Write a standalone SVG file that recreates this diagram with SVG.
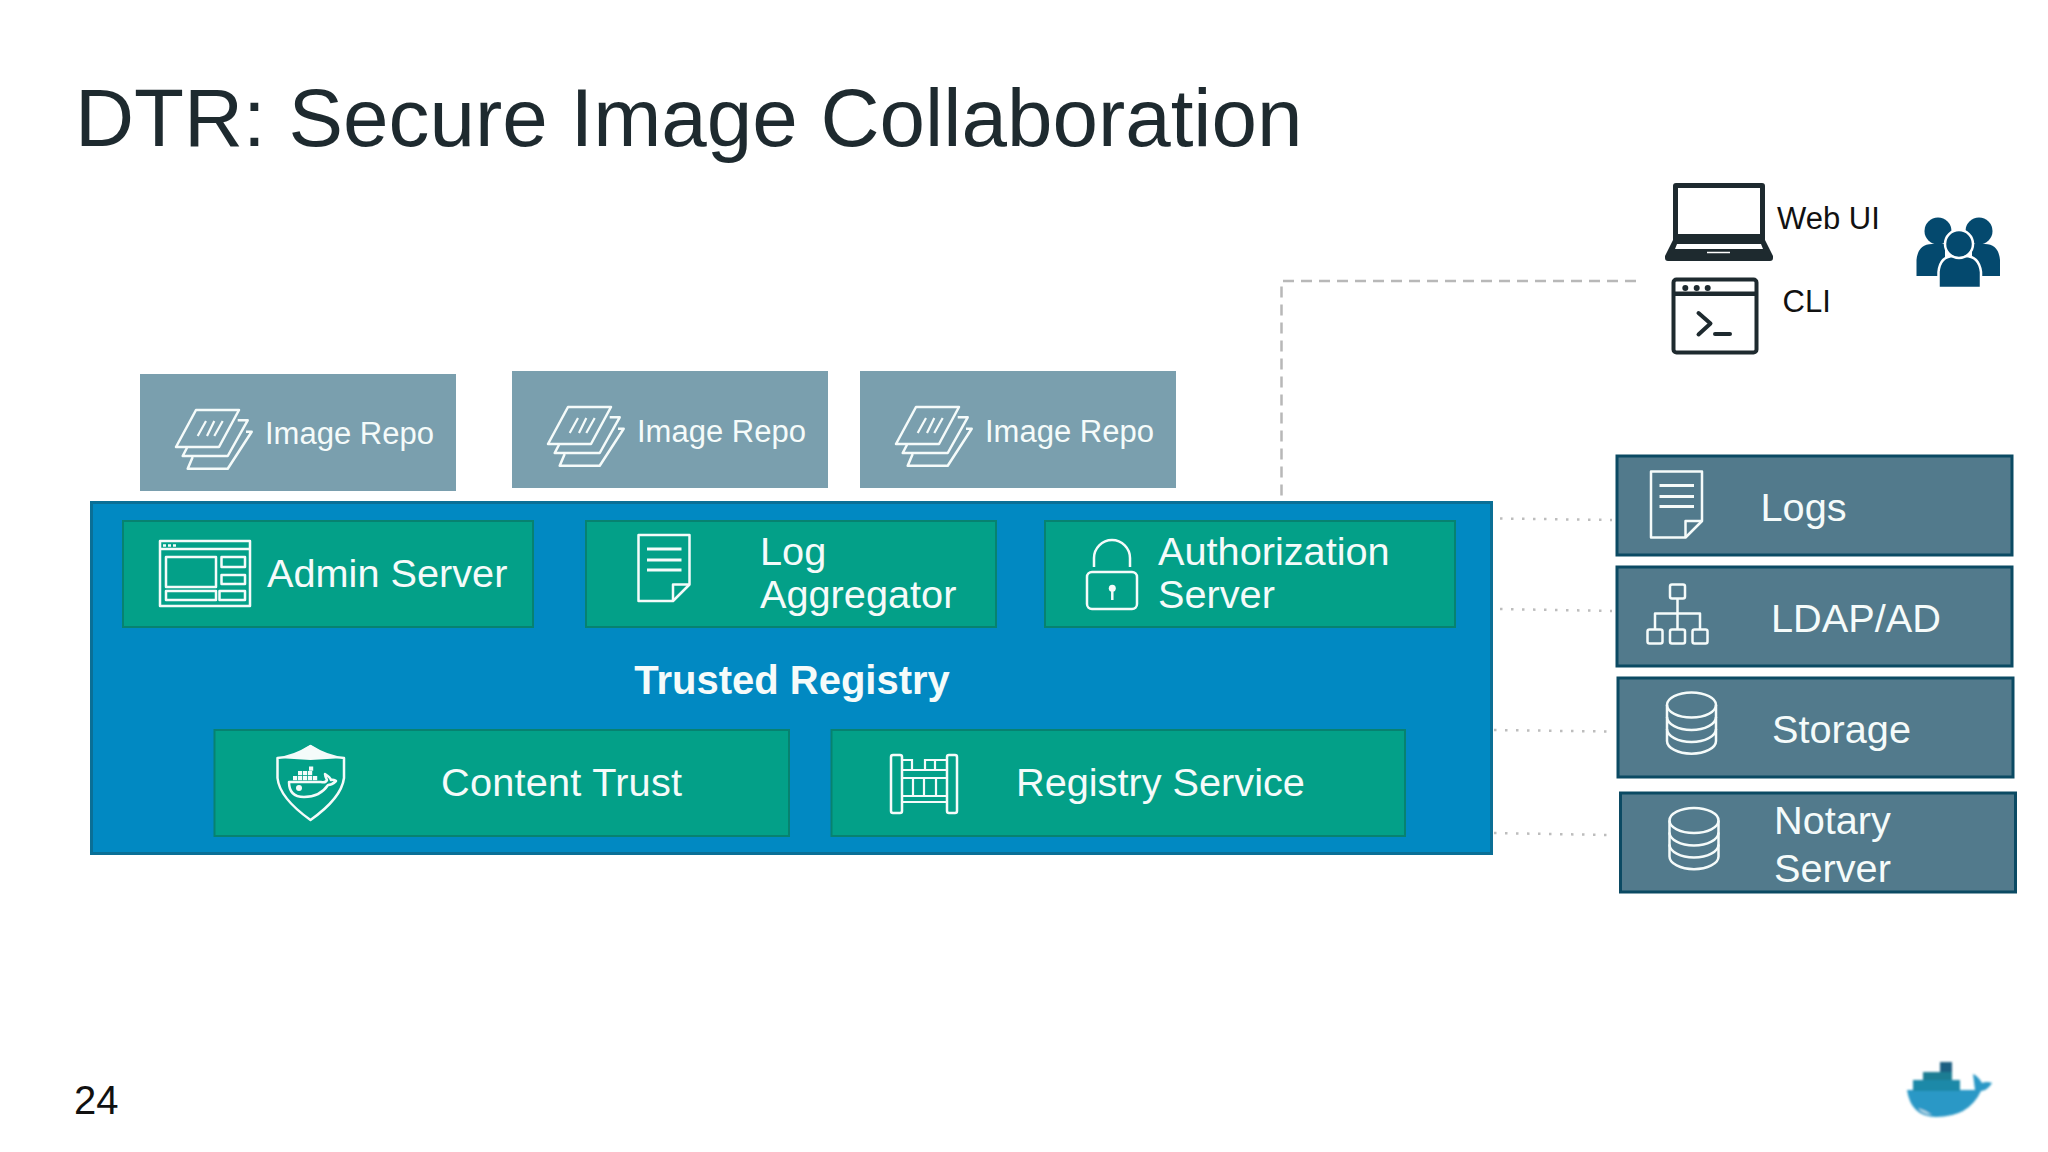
<svg xmlns="http://www.w3.org/2000/svg" xmlns:xlink="http://www.w3.org/1999/xlink" width="2048" height="1152" viewBox="0 0 2048 1152">
<style>
text{font-family:"Liberation Sans",Arial,sans-serif}
.w{fill:#f5fbfa}
.t31{font-size:31px}.t40{font-size:39.700px}
.repo{fill:#7a9fae}
.grn{fill:#03a088;stroke:#078270;stroke-width:2}
.ext{fill:#527a8c;stroke:#0b4a63;stroke-width:3}
.ic{fill:none;stroke:#f5fbfa;stroke-width:2.500;stroke-linejoin:round}
.ict{fill:none;stroke:#f5fbfa;stroke-width:2.200}
.dash{fill:none;stroke:#b8b8b8;stroke-width:2.500;stroke-dasharray:11 7}
.dot{fill:none;stroke:#bdbdbd;stroke-width:2.500;stroke-dasharray:2.500 8.500}
.dk{fill:#1e2a2f}
.ppl{fill:#04496e}
</style>
<defs>
<g id="i-repo" class="ic">
<path d="M20,0H63L43,37H0Z"/>
<path d="M61.7,10.3H71.7L51.7,46H6.7L11,37.7"/>
<path d="M70,21.7H75.7L51.7,58.7H11.7L16.7,47"/>
<path d="M30,11L21.7,26M38.3,11L31,26M46.7,11L38.3,26" class="ict"/>
</g>
<g id="i-doc" class="ic">
<path d="M0,0H51V49.500L34.500,66H0Z"/>
<path d="M34.500,66V49.500H51"/>
<path d="M8.500,14H43M8.500,25H43M8.500,35H43" stroke-width="3"/>
</g>
<g id="i-db" class="ic">
<ellipse cx="26.500" cy="13" rx="24.500" ry="12.500"/>
<path d="M2,13V49C2,56 13,61.700 26.500,61.700S51,56 51,49V13"/>
<path d="M2,25C2,32 13,38 26.500,38S51,32 51,25"/>
<path d="M2,37C2,44 13,50 26.500,50S51,44 51,37"/>
</g>
<filter id="soft"><feGaussianBlur stdDeviation="0.9"/></filter>
</defs>

<rect width="2048" height="1152" fill="#fff"/>
<text id="title" x="75" y="146" font-size="81.800" fill="#1e2a2f">DTR: Secure Image Collaboration</text>
<text id="page" x="74" y="1114" font-size="40" fill="#111">24</text>

<g id="connectors">
<path class="dash" d="M1636,281H1281.500V502"/>
<path d="M1277,502.500H1282" stroke="#c4ccd0" stroke-width="2.500"/>
<path class="dot" d="M1500,518.500L1612,520"/>
<path class="dot" d="M1500,609L1612,611"/>
<path class="dot" d="M1494,730L1607,731.500"/>
<path class="dot" d="M1494,833L1607,835"/>
</g>

<g id="trusted-registry">
<rect x="91.500" y="502.500" width="1400" height="351" fill="#0189c2" stroke="#0a6f96" stroke-width="3"/>
<text x="792" y="693.500" text-anchor="middle" class="w" font-size="40" font-weight="700">Trusted Registry</text>
</g>

<g id="repo-1">
<rect class="repo" x="140" y="374" width="316" height="117"/>
<use xlink:href="#i-repo" href="#i-repo" x="176" y="410"/>
<text x="265" y="443.500" class="w t31">Image Repo</text>
</g>
<g id="repo-2">
<rect class="repo" x="512" y="371" width="316" height="117"/>
<use xlink:href="#i-repo" href="#i-repo" x="548" y="407"/>
<text x="637" y="441.500" class="w t31">Image Repo</text>
</g>
<g id="repo-3">
<rect class="repo" x="860" y="371" width="316" height="117"/>
<use xlink:href="#i-repo" href="#i-repo" x="896" y="407"/>
<text x="985" y="441.500" class="w t31">Image Repo</text>
</g>

<g id="admin-server">
<rect class="grn" x="123" y="521" width="410" height="106"/>
<g class="ic">
<rect x="160" y="541" width="90" height="65"/>
<path d="M160,549H250"/>
<rect x="166" y="557" width="50" height="30"/>
<rect x="221.500" y="557" width="23.500" height="10"/>
<rect x="221.500" y="575" width="23.500" height="9"/>
<rect x="166" y="591" width="50" height="9"/>
<rect x="219.500" y="591" width="25.500" height="9"/>
</g>
<path d="M163,545.500h3M168,545.500h3M173,545.500h3" stroke="#f5fbfa" stroke-width="2.500"/>
<text x="267" y="587" class="w t40">Admin Server</text>
</g>

<g id="log-aggregator">
<rect class="grn" x="586" y="521" width="410" height="106"/>
<use xlink:href="#i-doc" href="#i-doc" x="638.500" y="535"/>
<text x="760" y="565" class="w t40">Log</text>
<text x="760" y="608" class="w t40">Aggregator</text>
</g>

<g id="authorization-server">
<rect class="grn" x="1045" y="521" width="410" height="106"/>
<rect class="ic" x="1087" y="572" width="50" height="37" rx="5"/>
<path class="ic" d="M1094,567V558A18,18 0 0 1 1130,558V567"/>
<circle cx="1112.300" cy="588.300" r="3.500" fill="#f5fbfa"/>
<path d="M1112.300,590V600" stroke="#f5fbfa" stroke-width="2.500"/>
<text x="1158" y="565" class="w t40">Authorization</text>
<text x="1158" y="608" class="w t40">Server</text>
</g>

<g id="content-trust">
<rect class="grn" x="214.500" y="730" width="574.500" height="106"/>
<path d="M310.500,745L297,753Q288,757 277.500,758L310.500,760L344,758Q333,757 324,753Z" fill="#f5fbfa"/>
<path class="ic" d="M277.500,758V778Q279.500,798 310.500,820Q341.500,798 344,778V758Q328,757 310.500,746Q293,757 277.500,758Z"/>
<g fill="#f5fbfa">
<rect x="309" y="766.500" width="4.200" height="4.200"/>
<rect x="298" y="771" width="4.200" height="4.200"/><rect x="303" y="771" width="4.200" height="4.200"/><rect x="308" y="771" width="4.200" height="4.200"/>
<rect x="293" y="776" width="4.200" height="4.200"/><rect x="298" y="776" width="4.200" height="4.200"/><rect x="303" y="776" width="4.200" height="4.200"/><rect x="308" y="776" width="4.200" height="4.200"/><rect x="313" y="776" width="4.200" height="4.200"/>
<circle cx="299" cy="788" r="3"/>
</g>
<path class="ic" stroke-width="2" d="M289,782H321Q326,783 327,780Q325,776 325,774Q330,777 331,780Q334,779 336,781Q332,785 328,785Q320,797 304,797Q289,797 289,782Z"/>
<text x="441" y="796" class="w t40" textLength="241">Content Trust</text>
</g>

<g id="registry-service">
<rect class="grn" x="831.500" y="730" width="573.500" height="106"/>
<path class="ic" d="M891,757Q891,755 893,755H900Q902,755 902,757V811Q902,813 900,813H893Q891,813 891,811ZM947,757Q947,755 949,755H955Q957,755 957,757V811Q957,813 955,813H949Q947,813 947,811Z"/>
<path class="ict" d="M902,760H912V770H902M925,770V760H947M935,760V770M902,770H947M902,778H947M902,796H947M902,802H947M913,778V796M924,778V796M936,778V796"/>
<text x="1016" y="796" class="w t40">Registry Service</text>
</g>

<g id="logs">
<rect class="ext" x="1617" y="456" width="395" height="99"/>
<use xlink:href="#i-doc" href="#i-doc" x="1651" y="471.500"/>
<text x="1760.500" y="521" class="w t40">Logs</text>
</g>
<g id="ldap-ad">
<rect class="ext" x="1617" y="567" width="395" height="99"/>
<g class="ic">
<rect x="1670" y="584.500" width="15" height="14" rx="2"/>
<rect x="1647.500" y="629.500" width="15" height="14" rx="2"/>
<rect x="1670" y="629.500" width="15" height="14" rx="2"/>
<rect x="1692.500" y="629.500" width="15" height="14" rx="2"/>
<path d="M1677.500,598.500V629.500M1655,629.500V613.500H1700V629.500"/>
</g>
<text x="1771" y="632" class="w t40">LDAP/AD</text>
</g>
<g id="storage">
<rect class="ext" x="1618" y="678" width="395" height="99"/>
<use xlink:href="#i-db" href="#i-db" x="1665" y="692"/>
<text x="1772" y="743" class="w t40">Storage</text>
</g>
<g id="notary-server">
<rect class="ext" x="1620.500" y="793" width="395" height="99"/>
<use xlink:href="#i-db" href="#i-db" x="1667.500" y="807.500"/>
<text x="1774" y="834" class="w t40">Notary</text>
<text x="1774" y="882" class="w t40">Server</text>
</g>

<g id="web-ui">
<path class="dk" fill-rule="evenodd" d="M1676,183H1762Q1765,183 1765,186V240L1773,256V258Q1773,261 1770,261H1668Q1665,261 1665,258V256L1673,240V186Q1673,183 1676,183ZM1678,188V234H1760V188ZM1677,244L1675,249H1763L1761,244Z"/>
<path d="M1707,252.500H1730" stroke="#fff" stroke-width="1.500"/>
<text x="1777" y="229" font-size="31" fill="#111">Web UI</text>
</g>
<g id="cli">
<rect x="1673.500" y="279.500" width="83" height="73" rx="3" fill="#fff" stroke="#1e2a2f" stroke-width="4"/>
<rect x="1674" y="291.500" width="82" height="4.500" fill="#1e2a2f"/>
<g class="dk"><circle cx="1685.300" cy="288" r="3"/><circle cx="1696.700" cy="288" r="3"/><circle cx="1707.700" cy="288" r="3"/></g>
<path d="M1698.500,313L1710.500,323.500L1698.500,334.500M1715,334H1730" fill="none" stroke="#1e2a2f" stroke-width="4" stroke-linecap="round" stroke-linejoin="round"/>
<text x="1782.500" y="312" font-size="31" fill="#111">CLI</text>
</g>
<g id="users">
<circle class="ppl" cx="1938" cy="231" r="13.500"/>
<circle class="ppl" cx="1979" cy="231" r="13.500"/>
<path class="ppl" d="M1916.500,276V260Q1918,244 1932,244H1945V276ZM2000,276V260Q1998.500,244 1985,244H1972V276Z"/>
<path class="ppl" d="M1938.500,288V272Q1940,256 1954,256H1965Q1979,256 1981,272V288Z" stroke="#fff" stroke-width="2.500"/>
<circle class="ppl" cx="1959" cy="244" r="14" stroke="#fff" stroke-width="2.500"/>
</g>
<g id="docker-logo" filter="url(#soft)">
<path d="M1907,1090H1975Q1974,1082 1973,1074Q1978,1076 1982,1083Q1987,1081 1992,1083Q1988,1090 1981,1091Q1969,1117 1936,1117Q1911,1117 1907,1090Z" fill="#2c98c6"/>
<path d="M1918,1108Q1925,1110 1932,1115Q1922,1114 1918,1108Z" fill="#b9dbe8"/>
<rect x="1913" y="1080" width="47" height="11" fill="#1f89a8"/>
<rect x="1923" y="1072" width="29" height="8" fill="#1b7d93"/>
<rect x="1940" y="1062" width="12" height="10" fill="#1c5f82"/>
</g>
</svg>
